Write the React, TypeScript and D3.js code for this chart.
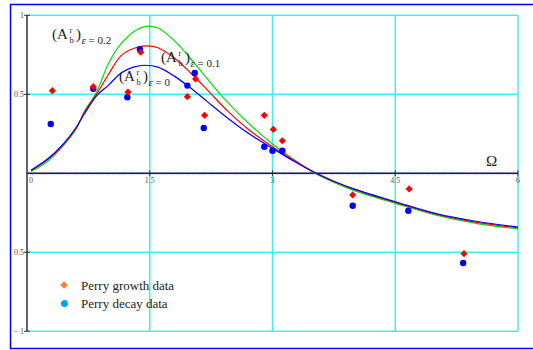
import React from "react";
import * as d3 from "d3";

// Curve samples (Ω) and values for each ε
const omega = [0.05, 0.25, 0.45, 0.6, 0.7, 0.85, 1.0, 1.15, 1.3, 1.45, 1.6, 1.8, 2.0, 2.2, 2.45, 2.7, 3.0, 3.25, 3.5, 3.75, 4.0, 4.5, 5.0, 5.5, 6.0];
const curveEps0 = [0.02, 0.09, 0.19, 0.29, 0.375, 0.49, 0.56, 0.635, 0.672, 0.684, 0.672, 0.615, 0.54, 0.455, 0.35, 0.255, 0.158, 0.08, 0.01, -0.05, -0.1, -0.18, -0.255, -0.305, -0.34];
const curveEps01 = [0.018, 0.085, 0.185, 0.285, 0.385, 0.5, 0.63, 0.745, 0.79, 0.806, 0.795, 0.73, 0.635, 0.53, 0.395, 0.28, 0.168, 0.087, 0.008, -0.052, -0.102, -0.184, -0.259, -0.311, -0.346];
const curveEps02 = [0.012, 0.075, 0.178, 0.28, 0.39, 0.515, 0.7, 0.82, 0.895, 0.93, 0.92, 0.84, 0.725, 0.6, 0.45, 0.32, 0.185, 0.09, 0.005, -0.058, -0.11, -0.19, -0.265, -0.318, -0.352];

// Perry data
const growthX = [0.31, 0.81, 1.234, 1.39, 1.96, 2.06, 2.17, 2.9, 3.01, 3.12, 3.98, 4.67, 5.34];
const growthY = [0.523, 0.548, 0.514, 0.766, 0.485, 0.597, 0.367, 0.367, 0.278, 0.206, -0.137, -0.099, -0.509];
const decayX = [0.29, 0.81, 1.226, 1.38, 1.96, 2.05, 2.16, 2.9, 3.0, 3.12, 3.98, 4.66, 5.33];
const decayY = [0.312, 0.535, 0.481, 0.785, 0.555, 0.635, 0.287, 0.168, 0.143, 0.143, -0.205, -0.237, -0.568];

const xTicks = [0, 1.5, 3, 4.5, 6];
const xTickLabels = ["0", "1.5", "3", "4.5", "6"];
const yTicks = [1, 0.5, -0.5, -1];
const yTickLabels = ["1", "0.5", "0.5", "\u2212 1"];
const legendLabels = ["Perry growth data", "Perry decay data"];

export default function App() {
  const W = 533, H = 350;
  const x = d3.scaleLinear().domain([0, 6]).range([27, 518]);
  const y = d3.scaleLinear().domain([-1, 1]).range([331.3, 15.3]);
  const line = d3
    .line<number>()
    .x((_, i) => x(omega[i]))
    .y((d) => y(d))
    .curve(d3.curveCatmullRom.alpha(0.5));

  const serif = "'Liberation Serif', 'DejaVu Serif', serif";
  const diamond = (cx: number, cy: number, r: number) =>
    `M${cx},${cy - r}L${cx + r},${cy}L${cx},${cy + r}L${cx - r},${cy}Z`;

  const label = (x0: number, yb: number, sub: string) => (
    <g fontFamily={serif} fill="#222">
      <text x={x0} y={yb} fontSize={15}>(A</text>
      <text x={x0 + 17.5} y={yb - 6.5} fontSize={8.5}>r</text>
      <text x={x0 + 17.5} y={yb + 4} fontSize={8.5}>b</text>
      <text x={x0 + 24} y={yb} fontSize={15}>)</text>
      <text x={x0 + 29.5} y={yb + 5} fontSize={11}>
        <tspan fontStyle="italic">ε</tspan>
        <tspan> = {sub}</tspan>
      </text>
    </g>
  );

  return (
    <svg
      width={W}
      height={H}
      style={{ position: "absolute", left: 0, top: 0, background: "#fff" }}
    >
      {/* outer frame */}
      <path d={`M540,4.5H10.5V348.5H540`} fill="none" stroke="#0000ff" strokeWidth={1.5} />

      {/* grid */}
      <g stroke="#40f0f0" strokeWidth={1.5} fill="none">
        {yTicks.map((t) => (
          <line key={"gy" + t} x1={x(0)} x2={x(6)} y1={y(t)} y2={y(t)} />
        ))}
        {xTicks.slice(1).map((t) => (
          <line key={"gx" + t} x1={x(t)} x2={x(t)} y1={y(1)} y2={y(-1)} />
        ))}
      </g>

      {/* axes */}
      <line x1={x(0)} x2={x(0)} y1={y(1)} y2={y(-1)} stroke="#111" strokeWidth={1.3} />
      <line x1={x(0)} x2={x(6)} y1={y(0)} y2={y(0)} stroke="#0a0a40" strokeWidth={1.5} />
      <line x1={x(0)} x2={x(6)} y1={y(0) + 0.7} y2={y(0) + 0.7} stroke="#6060ff" strokeWidth={0.8} strokeDasharray="1,1.5" />
      <g stroke="#333" strokeWidth={1}>
        {yTicks.map((t) => (
          <line key={"ty" + t} x1={x(0) - 3} x2={x(0) + 3} y1={y(t)} y2={y(t)} />
        ))}
        {xTicks.slice(1).map((t) => (
          <line key={"tx" + t} x1={x(t)} x2={x(t)} y1={y(0) - 3} y2={y(0) + 3} />
        ))}
      </g>

      {/* tick labels */}
      <g fontFamily={serif} fontSize={8} fill="#555">
        {xTicks.map((t, i) => (
          <text key={"xl" + t} x={i === 0 ? x(t) + 2 : x(t)} y={y(0) + 10} textAnchor={i === 0 ? "start" : "middle"}>
            {xTickLabels[i]}
          </text>
        ))}
        {yTicks.map((t, i) => (
          <text key={"yl" + t} x={x(0) - 3} y={y(t) + 3} textAnchor="end">
            {yTickLabels[i]}
          </text>
        ))}
      </g>

      {/* curves */}
      <path d={line(curveEps02) || ""} fill="none" stroke="#00e000" strokeWidth={1.2} />
      <path d={line(curveEps01) || ""} fill="none" stroke="#ff0000" strokeWidth={1.2} />
      <path d={line(curveEps0) || ""} fill="none" stroke="#0000ff" strokeWidth={1.2} />

      {/* data */}
      {decayX.map((v, i) => (
        <circle key={"d" + i} cx={x(v)} cy={y(decayY[i])} r={3.2} fill="#0000ff" />
      ))}
      {growthX.map((v, i) => (
        <path key={"g" + i} d={diamond(x(v), y(growthY[i]), 3.6)} fill="#ff0000" />
      ))}

      {/* curve labels */}
      {label(52, 39, "0.2")}
      {label(161, 62, "0.1")}
      {label(119, 81, "0")}

      {/* Omega */}
      <text x={486} y={166} fontFamily={serif} fontSize={15} fill="#222">Ω</text>

      {/* legend */}
      <path d={diamond(64, 285, 3.8)} fill="#ff7f2a" />
      <circle cx={64.5} cy={303.5} r={3.5} fill="#0aa0f0" />
      <g fontFamily={serif} fontSize={13} fill="#222">
        <text x={81} y={289.5}>{legendLabels[0]}</text>
        <text x={81} y={308}>{legendLabels[1]}</text>
      </g>
    </svg>
  );
}
